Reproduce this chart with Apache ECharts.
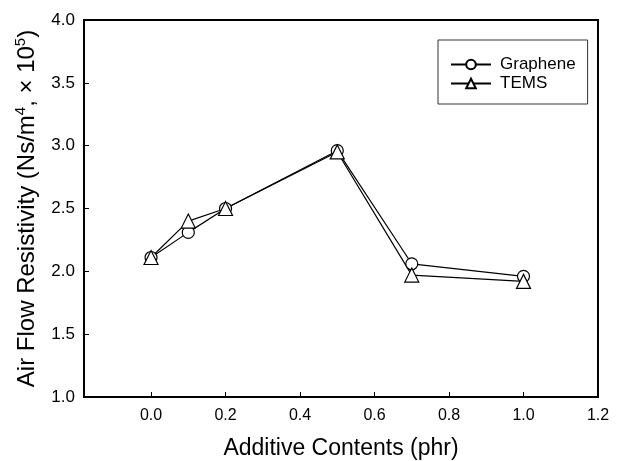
<!DOCTYPE html>
<html>
<head>
<meta charset="utf-8">
<script src="https://cdn.jsdelivr.net/npm/echarts@6/dist/echarts.min.js"></script>
<style>html,body{margin:0;padding:0;background:#fff;}#c{width:618px;height:461px;}</style>
</head>
<body>
<div id="c"></div>
<script>
const xValues = [0.0, 0.1, 0.2, 0.5, 0.7, 1.0];
const graphene = [2.11, 2.31, 2.50, 2.96, 2.06, 1.96];
const tems = [2.11, 2.40, 2.50, 2.95, 1.97, 1.92];
const xTicks = [0.0, 0.2, 0.4, 0.6, 0.8, 1.0, 1.2];
const FONT = 'Liberation Sans, Arial, sans-serif';

const chart = echarts.init(document.getElementById('c'), null, {renderer: 'canvas'});
const pairs = (ys) => xValues.map((x, i) => [x, ys[i]]);
chart.setOption({
  animation: false,
  backgroundColor: '#fff',
  grid: {left: 84, right: 20, top: 20, bottom: 64, containLabel: false, outerBoundsMode: 'none',
         show: true, borderColor: '#000', borderWidth: 2, backgroundColor: 'transparent'},
  legend: {
    left: 438, top: 40,
    orient: 'vertical',
    borderColor: '#333', borderWidth: 1,
    padding: [16, 12, 12, 12],
    itemWidth: 40, itemHeight: 12, itemGap: 2,
    textStyle: {fontFamily: FONT, fontSize: 17, color: '#000', padding: [0, 0, 0, 4]},
    data: ['Graphene', 'TEMS']
  },
  xAxis: {
    type: 'value', min: -0.18, max: 1.2,
    name: 'Additive Contents (phr)', nameLocation: 'middle', nameGap: 40,
    nameTextStyle: {fontFamily: FONT, fontSize: 23, color: '#000'},
    axisLine: {onZero: false, lineStyle: {color: '#000', width: 2}},
    axisTick: {inside: true, length: 5, lineStyle: {color: '#000', width: 1}, customValues: xTicks},
    axisLabel: {customValues: xTicks, formatter: v => v.toFixed(1), fontFamily: FONT, fontSize: 16, color: '#000', margin: 11},
    splitLine: {show: false}
  },
  yAxis: {
    type: 'value', min: 1.0, max: 4.0, interval: 0.5,
    name: '{a|Air Flow Resistivity (Ns/m}{s|4}{a|, × 10}{s|5}{a|)}',
    nameLocation: 'middle', nameGap: 42, nameRotate: 90,
    nameTextStyle: {
      fontFamily: FONT, fontSize: 24, color: '#000',
      rich: {
        a: {fontFamily: FONT, fontSize: 24, color: '#000', lineHeight: 28},
        s: {fontFamily: FONT, fontSize: 15, color: '#000', lineHeight: 28, verticalAlign: 'top', padding: [0, 0, 12, 0]}
      }
    },
    axisLine: {onZero: false, lineStyle: {color: '#000', width: 2}},
    axisTick: {inside: true, length: 5, lineStyle: {color: '#000', width: 1}},
    axisLabel: {formatter: v => v.toFixed(1), fontFamily: FONT, fontSize: 17, color: '#000', margin: 9},
    splitLine: {show: false}
  },
  series: [
    {
      name: 'Graphene', type: 'line', data: pairs(graphene),
      symbol: 'circle', symbolSize: 12,
      lineStyle: {color: '#000', width: 1.2},
      itemStyle: {color: '#fff', borderColor: '#000', borderWidth: 1.2}
    },
    {
      name: 'TEMS', type: 'line', data: pairs(tems),
      symbol: 'triangle', symbolSize: 14,
      lineStyle: {color: '#000', width: 1.2},
      itemStyle: {color: '#fff', borderColor: '#000', borderWidth: 1.2}
    }
  ]
});
</script>
</body>
</html>
